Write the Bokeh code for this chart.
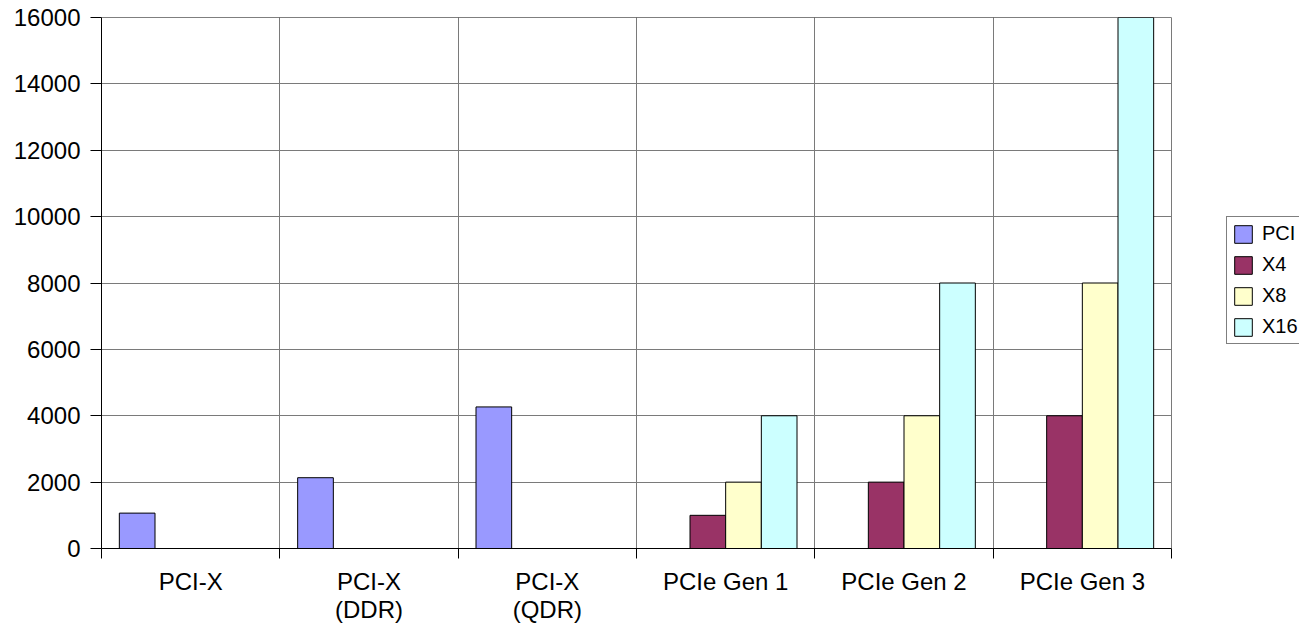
import math
from bokeh.plotting import figure
from bokeh.models import FixedTicker, Legend, LegendItem, Range1d, ColumnDataSource
from bokeh.embed import file_html
from bokeh.resources import INLINE

nan = math.nan
categories = ["PCI-X", "PCI-X\n(DDR)", "PCI-X\n(QDR)", "PCIe Gen 1", "PCIe Gen 2", "PCIe Gen 3"]
series_names = ["PCI", "X4", "X8", "X16"]
pci = [1066, 2133, 4266, nan, nan, nan]
x4 = [nan, nan, nan, 1000, 2000, 4000]
x8 = [nan, nan, nan, 2000, 4000, 8000]
x16 = [nan, nan, nan, 4000, 8000, 16000]
colors = ["#9999FF", "#993366", "#FFFFCC", "#CCFFFF"]
y_ticks = [0, 2000, 4000, 6000, 8000, 10000, 12000, 14000, 16000]

FONT = "Liberation Sans"
n = len(categories)
centers = [i + 0.5 for i in range(n)]
boundaries = list(range(n + 1))

# plot area of the categories: 1070 px wide, the frame continues to the right edge
W, H = 1299, 625
LEFT, TOP, BOTTOM = 101, 17, 75
cat_px = 1070 / n
x_end = (W - LEFT) / cat_px
y_max = y_ticks[-1]

p = figure(width=W, height=H, x_range=Range1d(0, x_end), y_range=Range1d(0, y_max),
           output_backend="svg", toolbar_location=None,
           min_border_left=LEFT, min_border_right=0, min_border_top=TOP, min_border_bottom=BOTTOM)
p.outline_line_color = None
p.background_fill_color = "white"
p.border_fill_color = "white"

# grids
p.xgrid.ticker = FixedTicker(ticks=boundaries)
p.xgrid.grid_line_color = "#7a7a7a"
p.xgrid.grid_line_width = 1
p.ygrid.ticker = FixedTicker(ticks=y_ticks)
p.ygrid.grid_line_color = "#7a7a7a"
p.ygrid.grid_line_width = 1
p.ygrid.cross_bounds = (0, n)

# x axis
xa = p.xaxis[0]
xa.bounds = (0, n)
xa.ticker = FixedTicker(ticks=centers, minor_ticks=boundaries)
xa.major_label_overrides = {c: lab for c, lab in zip(centers, categories)}
xa.major_tick_out = 0
xa.major_tick_in = 0
xa.minor_tick_out = 10
xa.minor_tick_in = 0
xa.minor_tick_line_color = "black"
xa.axis_line_color = "black"
xa.major_label_text_font = FONT
xa.major_label_text_font_size = "24px"
xa.major_label_text_line_height = 1.05
xa.major_label_text_color = "black"
xa.major_label_standoff = 9

# y axis
ya = p.yaxis[0]
ya.ticker = FixedTicker(ticks=y_ticks)
ya.major_tick_out = 11
ya.major_tick_in = 0
ya.minor_tick_line_color = None
ya.axis_line_color = "black"
ya.major_tick_line_color = "black"
ya.major_label_text_font = FONT
ya.major_label_text_font_size = "24px"
ya.major_label_text_color = "black"
ya.major_label_standoff = 10

series = [pci, x4, x8, x16]
offsets = [-0.3, -0.1, 0.1, 0.3]
items = []
for name, vals, col, off in zip(series_names, series, colors, offsets):
    src = ColumnDataSource(dict(x=[c + off for c in centers], top=vals))
    r = p.vbar(x="x", top="top", bottom=0, width=0.2, source=src,
               fill_color=col, line_color="black", line_width=1)
    items.append(LegendItem(label=name, renderers=[r]))

# dark top edge of the plot area
p.segment(x0=[0], y0=[y_max], x1=[n], y1=[y_max], line_color="black", line_width=1)

legend = Legend(items=items, location=(1125, 204))
legend.border_line_color = "black"
legend.border_line_width = 1
legend.background_fill_color = "white"
legend.background_fill_alpha = 1
legend.label_text_font = FONT
legend.label_text_font_size = "20px"
legend.label_text_color = "black"
legend.glyph_width = 22
legend.glyph_height = 22
legend.label_height = 22
legend.spacing = 8
legend.padding = 5
legend.margin = 0
legend.label_standoff = 8
p.add_layout(legend, "center")

open("out.html", "w").write(file_html(p, INLINE))
